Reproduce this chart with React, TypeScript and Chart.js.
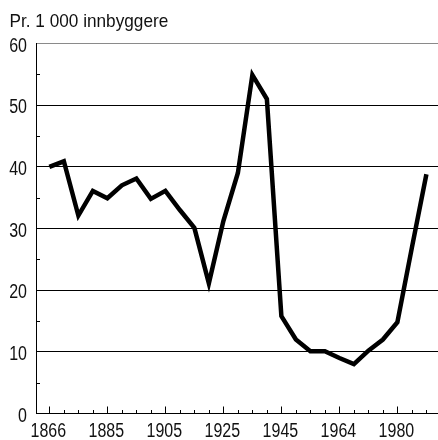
import React, { useEffect, useRef } from "react";
import { Chart, registerables } from "chart.js";

Chart.register(...registerables);

const titleText = "Pr. 1 000 innbyggere";
const tickLabels = ["1866", "1885", "1905", "1925", "1945", "1964", "1980"];
const values = [
  40.0, 40.9, 32.1, 36.1, 34.9, 37.0, 38.1, 34.8, 36.1, 33.0, 30.1, 21.1, 31.2, 39.0,
  54.9, 51.0, 15.8, 12.0, 10.1, 10.1, 9.0, 8.0, 10.2, 12.0, 14.8, 26.9, 38.8,
];
const yTicks = [0, 10, 20, 30, 40, 50, 60];
const yMinor = [5, 15, 25, 35, 45, 55];

const FONT = "'Liberation Sans', Arial, sans-serif";

function squeezedText(ctx: any, text: string, x: number, y: number, sx: number, align: string) {
  ctx.save();
  ctx.translate(x, y);
  ctx.scale(sx, 1);
  ctx.textAlign = align;
  ctx.fillText(text, 0, 0);
  ctx.restore();
}

const textPlugin = {
  id: "innerTicksAndText",
  afterDraw(chart: any) {
    const { ctx, scales } = chart;
    const xs = scales.x;
    const ys = scales.y;
    const area = chart.chartArea;
    ctx.save();
    ctx.strokeStyle = "#000";
    ctx.lineWidth = 1;
    ctx.beginPath();
    for (let i = 0; i < values.length; i++) {
      const px = Math.round(xs.getPixelForValue(i)) + 0.5;
      const len = i % 4 === 0 ? 7 : 3.5;
      ctx.moveTo(px, area.bottom);
      ctx.lineTo(px, area.bottom - len);
    }
    for (const v of yMinor) {
      const py = Math.round(ys.getPixelForValue(v)) + 0.5;
      ctx.moveTo(area.left, py);
      ctx.lineTo(area.left + 4, py);
    }
    ctx.stroke();

    ctx.fillStyle = "#111";
    ctx.textBaseline = "alphabetic";
    // title
    ctx.font = "18.5px " + FONT;
    squeezedText(ctx, titleText, 9.5, 27, 0.93, "left");
    // y labels
    ctx.font = "20px " + FONT;
    for (const v of yTicks) {
      const py = ys.getPixelForValue(v);
      squeezedText(ctx, String(v), 27, py + 8, 0.8, "right");
    }
    // x labels
    for (let k = 0; k < tickLabels.length; k++) {
      const px = xs.getPixelForValue(k * 4);
      squeezedText(ctx, tickLabels[k], px - 1, 437, 0.8, "center");
    }
    ctx.restore();
  },
};

export default function App() {
  const ref = useRef<HTMLCanvasElement>(null);
  useEffect(() => {
    if (!ref.current) return;
    const chart = new Chart(ref.current, {
      type: "line",
      data: {
        datasets: [
          {
            data: values.map((v, i) => ({ x: i, y: v })),
            borderColor: "#000",
            borderWidth: 4.5,
            pointRadius: 0,
            tension: 0,
            borderJoinStyle: "miter",
            borderCapStyle: "butt",
          },
        ],
      },
      options: {
        animation: false,
        responsive: false,
        maintainAspectRatio: false,
        layout: { padding: { top: 43.5, left: 0, right: 0, bottom: 0 } },
        plugins: { legend: { display: false }, title: { display: false }, tooltip: { enabled: false } },
        scales: {
          x: {
            type: "linear",
            min: -0.92,
            max: 26.8,
            grid: { display: false, drawTicks: false },
            border: { display: true, color: "#000", width: 1 },
            afterFit: (s: any) => {
              s.height = 26.5;
            },
            ticks: { display: false, stepSize: 1, includeBounds: false },
          },
          y: {
            type: "linear",
            min: 0,
            max: 60,
            afterFit: (s: any) => {
              s.width = 36;
            },
            afterBuildTicks: (s: any) => {
              s.ticks = yTicks.map((v) => ({ value: v }));
            },
            grid: {
              drawTicks: false,
              color: (c: any) => (c.tick && c.tick.value === 60 ? "#8a8a8a" : "#000"),
              lineWidth: 1,
            },
            border: { display: true, color: "#000", width: 1 },
            ticks: { display: false },
          },
        },
      },
      plugins: [textPlugin],
    });
    return () => chart.destroy();
  }, []);
  return (
    <div style={{ position: "fixed", left: 0, top: 0, width: 438, height: 440, background: "#fff" }}>
      <canvas ref={ref} width={438} height={440} style={{ display: "block", width: 438, height: 440 }} />
    </div>
  );
}
